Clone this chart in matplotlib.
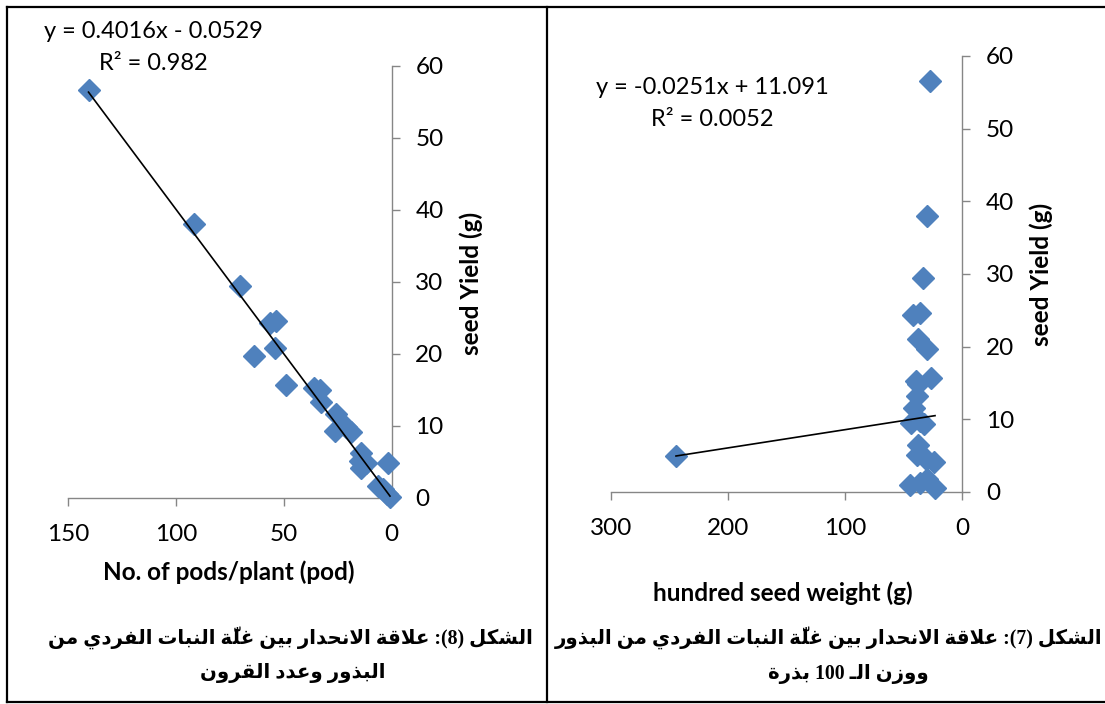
import matplotlib
matplotlib.use("Agg")
import matplotlib.pyplot as plt
from matplotlib.lines import Line2D
import numpy as np

# ---------------- data ----------------
pods = [140.5, 91.4, 70.1, 56.2, 53.7, 54.2, 64.0, 49.0, 36.0, 33.2, 32.9, 25.9,
        26.2, 21.0, 19.0, 14.4, 14.7, 12.0, 14.4, 1.8, 6.2, 3.8, 2.1, 0.8]
yield_pods = [56.6, 38.0, 29.4, 24.3, 24.6, 20.8, 19.7, 15.7, 15.3, 15.0, 13.3, 11.6,
              9.3, 9.9, 9.1, 6.3, 5.1, 4.9, 4.2, 4.8, 1.6, 1.2, 0.6, 0.2]

hsw = [27.3, 30.3, 33.9, 42.4, 35.8, 37.9, 30.3, 26.7, 39.4, 37.5, 38.5, 40.9,
       43.9, 36.0, 33.0, 37.9, 39.0, 31.0, 24.2, 244.5, 44.5, 36.0, 30.0, 23.3]
yield_hsw = [56.6, 38.0, 29.5, 24.3, 24.6, 21.0, 19.7, 15.7, 15.3, 14.8, 13.2, 11.6,
             9.5, 9.8, 9.4, 6.4, 5.1, 4.6, 4.1, 4.9, 0.9, 1.2, 1.8, 0.6]

fit_pods = (0.4016, -0.0529)
fit_hsw = (-0.0251, 11.091)

y_ticks = [0, 10, 20, 30, 40, 50, 60]
x_ticks_pods = [0, 50, 100, 150]
x_ticks_hsw = [0, 100, 200, 300]

eq_pods = ["y = 0.4016x - 0.0529", "R² = 0.982"]
eq_hsw = ["y = -0.0251x + 11.091", "R² = 0.0052"]
xlabel_pods = "No. of pods/plant (pod)"
xlabel_hsw = "hundred seed weight (g)"
ylabel = "seed Yield (g)"

caption_left = ["الشكل (8): علاقة الانحدار بين غلّة النبات الفردي من",
                "البذور وعدد القرون"]
caption_right = ["الشكل (7): علاقة الانحدار بين غلّة النبات الفردي من البذور",
                 "ووزن الـ 100 بذرة"]

# ---------------- minimal Arabic shaping (visual order) ----------------
FORMS = {
    'ا': ('\uFE8D', '\uFE8E', None, None),
    'ب': ('\uFE8F', '\uFE90', '\uFE91', '\uFE92'),
    'ة': ('\uFE93', '\uFE94', None, None),
    'ت': ('\uFE95', '\uFE96', '\uFE97', '\uFE98'),
    'ح': ('\uFEA1', '\uFEA2', '\uFEA3', '\uFEA4'),
    'د': ('\uFEA9', '\uFEAA', None, None),
    'ذ': ('\uFEAB', '\uFEAC', None, None),
    'ر': ('\uFEAD', '\uFEAE', None, None),
    'ز': ('\uFEAF', '\uFEB0', None, None),
    'ش': ('\uFEB5', '\uFEB6', '\uFEB7', '\uFEB8'),
    'ع': ('\uFEC9', '\uFECA', '\uFECB', '\uFECC'),
    'غ': ('\uFECD', '\uFECE', '\uFECF', '\uFED0'),
    'ف': ('\uFED1', '\uFED2', '\uFED3', '\uFED4'),
    'ق': ('\uFED5', '\uFED6', '\uFED7', '\uFED8'),
    'ك': ('\uFED9', '\uFEDA', '\uFEDB', '\uFEDC'),
    'ل': ('\uFEDD', '\uFEDE', '\uFEDF', '\uFEE0'),
    'م': ('\uFEE1', '\uFEE2', '\uFEE3', '\uFEE4'),
    'ن': ('\uFEE5', '\uFEE6', '\uFEE7', '\uFEE8'),
    'و': ('\uFEED', '\uFEEE', None, None),
    'ي': ('\uFEF1', '\uFEF2', '\uFEF3', '\uFEF4'),
    'ـ': ('ـ', 'ـ', 'ـ', 'ـ'),
}
MARKS = {'\u0651'}
MIRROR = {'(': ')', ')': '(', '[': ']', ']': '['}


def shape_word(word):
    clusters = []
    for c in word:
        if c in MARKS and clusters:
            clusters[-1][1] += c
        else:
            clusters.append([c, ''])
    units = []
    i = 0
    while i < len(clusters):
        b, m = clusters[i]
        if b == 'ل' and i + 1 < len(clusters) and clusters[i + 1][0] == 'ا':
            units.append(['LA', m + clusters[i + 1][1]])
            i += 2
        else:
            units.append([b, m])
            i += 1

    def joins(u):
        return u[0] == 'LA' or u[0] in FORMS

    def dual(u):
        return u[0] in FORMS and FORMS[u[0]][2] is not None

    glyphs = []
    for k, u in enumerate(units):
        pc = k > 0 and dual(units[k - 1]) and joins(u)
        nc = k < len(units) - 1 and dual(u) and joins(units[k + 1])
        if u[0] == 'LA':
            g = '\uFEFC' if pc else '\uFEFB'
        elif u[0] in FORMS:
            f = FORMS[u[0]]
            if pc and nc:
                g = f[3]
            elif pc:
                g = f[1]
            elif nc:
                g = f[2]
            else:
                g = f[0]
        else:
            g = u[0]
        # zero-width mark placed just before its base in visual order
        glyphs.append(u[1] + g)
    return ''.join(reversed(glyphs))


def ltr_token(tok):
    units = []
    for c in tok:
        if c.isdigit() and units and units[-1].isdigit():
            units[-1] += c
        else:
            units.append(c)
    return ''.join(MIRROR.get(u, u) for u in reversed(units))


def visual(line):
    toks = []
    for t in line.split(' '):
        if any(c in FORMS for c in t):
            toks.append(shape_word(t))
        else:
            toks.append(ltr_token(t))
    return ' '.join(reversed(toks))


# ---------------- figure ----------------
W, H = 1105, 704
fig = plt.figure(figsize=(W / 100, H / 100), dpi=100)
fig.patch.set_facecolor('white')

LAT = 'Lato'
BLUE = '#4F81BD'
GREY = '#868686'


def px_axes(x0, y0, x1, y1):
    return fig.add_axes([x0 / W, 1 - y1 / H, (x1 - x0) / W, (y1 - y0) / H])


def setup(ax, x, y, fit, xmax, xticks):
    ax.set_facecolor('none')
    ax.set_xlim(xmax, 0)
    ax.set_ylim(0, 60)
    for s in ('top', 'left'):
        ax.spines[s].set_visible(False)
    for s in ('right', 'bottom'):
        ax.spines[s].set_color(GREY)
        ax.spines[s].set_linewidth(1.0)
    ax.yaxis.tick_right()
    ax.set_xticks(xticks)
    ax.set_yticks(y_ticks)
    ax.tick_params(axis='both', direction='out', length=6, width=1.0,
                   color=GREY, labelsize=17.5, labelcolor='black')
    ax.tick_params(axis='y', pad=11)
    ax.tick_params(axis='x', pad=13)
    for lab in ax.get_xticklabels() + ax.get_yticklabels():
        lab.set_family(LAT)
    ax.plot(x, y, 'D', ms=11, color=BLUE, mec=BLUE, clip_on=False, zorder=3)
    xs = np.array([min(x), max(x)])
    ax.plot(xs, fit[0] * xs + fit[1], color='black', lw=1.2, zorder=4,
            clip_on=False)


ax1 = px_axes(68, 66, 391.7, 498)
setup(ax1, pods, yield_pods, fit_pods, 150, x_ticks_pods)
ax2 = px_axes(611, 56, 962.3, 492)
setup(ax2, hsw, yield_hsw, fit_hsw, 300, x_ticks_hsw)


def ftext(px, py, s, **kw):
    return fig.text(px / W, 1 - py / H, s, **kw)


# equations
EQF = 17
ftext(153, 32, eq_pods[0], ha='center', va='center', fontsize=EQF, family=LAT)
ftext(153, 64, eq_pods[1], ha='center', va='center', fontsize=EQF, family=LAT)
ftext(712, 87, eq_hsw[0], ha='center', va='center', fontsize=EQF, family=LAT)
ftext(712, 119, eq_hsw[1], ha='center', va='center', fontsize=EQF, family=LAT)

# axis labels
LBF = 17.5
ftext(229, 572, xlabel_pods, ha='center', va='center', fontsize=LBF,
      family=LAT, weight='bold')
ftext(783, 593, xlabel_hsw, ha='center', va='center', fontsize=LBF,
      family=LAT, weight='bold')
ftext(471, 283, ylabel, ha='center', va='center', fontsize=LBF, family=LAT,
      weight='bold', rotation=90)
ftext(1041, 274, ylabel, ha='center', va='center', fontsize=LBF, family=LAT,
      weight='bold', rotation=90)

# captions
CAPF = ['Liberation Serif', 'DejaVu Sans']
cap_texts = [
    ftext(290, 638, visual(caption_left[0]), ha='center', va='center',
          fontsize=14, family=CAPF, weight='bold'),
    ftext(293, 673, visual(caption_left[1]), ha='center', va='center',
          fontsize=14, family=CAPF, weight='bold'),
    ftext(829, 638, visual(caption_right[0]), ha='center', va='center',
          fontsize=14, family=CAPF, weight='bold'),
    ftext(848, 674, visual(caption_right[1]), ha='center', va='center',
          fontsize=14, family=CAPF, weight='bold'),
]
# fit caption size so the first left line spans its width in the reference
fig.canvas.draw()
r = fig.canvas.get_renderer()
wcur = cap_texts[0].get_window_extent(r).width
size = 14 * 485 / wcur
for t in cap_texts:
    t.set_fontsize(size)

# table frame
lw = 1.6
for (x0, y0, x1, y1) in [(7, 7, 1105, 7), (7, 702, 1105, 702),
                         (7, 7, 7, 702), (547, 7, 547, 702)]:
    fig.add_artist(Line2D([x0 / W, x1 / W], [1 - y0 / H, 1 - y1 / H],
                          transform=fig.transFigure, color='black', lw=lw))

fig.savefig('out.png', dpi=100)
